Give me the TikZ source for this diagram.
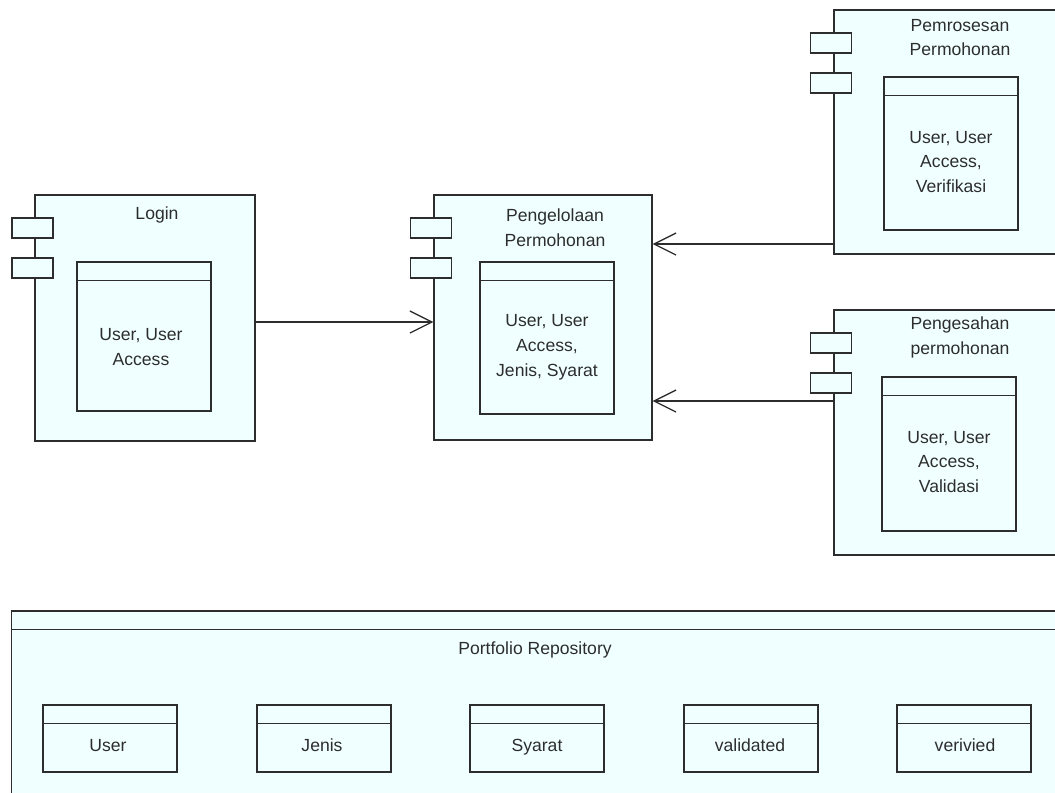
\documentclass[tikz,border=0pt]{standalone}
\usepackage{fontspec}
\setmainfont{Liberation Sans}
\usepackage{tikz}
\usetikzlibrary{arrows.meta,calc}

\definecolor{compfill}{RGB}{240,255,255}
\definecolor{ink}{RGB}{45,45,45}

\begin{document}
\begin{tikzpicture}[x=0.025cm,y=-0.025cm]
          %% component diagram

          \tikzstyle{comp}=[draw=ink,line width=0.9pt,fill=compfill,inner sep=0pt]
          \tikzstyle{port}=[comp,minimum width=1.025cm,minimum height=0.5cm]
          \tikzstyle{klass}=[comp,minimum width=3.35cm,path picture={
              \draw[ink,line width=0.9pt] ([yshift=-0.47cm]path picture bounding box.north west)
                    -- ([yshift=-0.47cm]path picture bounding box.north east);}]
          \tikzstyle{lbl}=[text=ink,align=center,font=\fontsize{12.5}{17.7}\selectfont]
          \tikzstyle{tlbl}=[lbl,text height=1.6ex,text depth=0.4ex]
          \tikzstyle{dep}=[draw=ink,line width=0.9pt,-{Straight Barb[length=0.55cm,width=0.55cm,line width=0.9pt]}]

          \clip (0,0) rectangle (1055,792);
          \fill[white] (0,0) rectangle (1055,792);

          % Login
          \node[comp,minimum width=5.5cm,minimum height=6.15cm] (login) at (145,318) {};
          \node[port] (loginP1) at (32.5,228) {};
          \node[port] (loginP2) at (32.5,268) {};
          \node[klass,minimum height=3.725cm] (loginK) at (144,336.5) {};
          \node[tlbl] (loginT) at (157,215) {Login};
          \node[lbl] (loginB) at (141,347) {User, User\\Access};

          % Pengelolaan Permohonan
          \node[comp,minimum width=5.45cm,minimum height=6.125cm] (kelola) at (543,317.5) {};
          \node[port] (kelolaP1) at (431,228) {};
          \node[port] (kelolaP2) at (431,268) {};
          \node[klass,minimum height=3.8cm] (kelolaK) at (547,338) {};
          \node[lbl] (kelolaT) at (555,227.5) {Pengelolaan\\Permohonan};
          \node[lbl] (kelolaB) at (547,347) {User, User\\Access,\\Jenis, Syarat};

          % Pemrosesan Permohonan
          \node[comp,minimum width=5.75cm,minimum height=6.1cm] (proses) at (949,132) {};
          \node[port] (prosesP1) at (831,43) {};
          \node[port] (prosesP2) at (831,83) {};
          \node[klass,minimum height=3.825cm] (prosesK) at (951,153.5) {};
          \node[lbl] (prosesT) at (960,37.5) {Pemrosesan\\Permohonan};
          \node[lbl] (prosesB) at (951,162) {User, User\\Access,\\Verifikasi};

          % Pengesahan permohonan
          \node[comp,minimum width=5.75cm,minimum height=6.125cm] (sah) at (949,432.5) {};
          \node[port] (sahP1) at (831,343) {};
          \node[port] (sahP2) at (831,383) {};
          \node[klass,minimum height=3.85cm] (sahK) at (949,454) {};
          \node[lbl] (sahT) at (960,337.5) {Pengesahan\\permohonan};
          \node[lbl] (sahB) at (949,462) {User, User\\Access,\\Validasi};

          % Portfolio Repository
          \node[klass,minimum width=26.3cm,minimum height=4.725cm] (repo) at (538,705.5) {};
          \node[tlbl] (repoT) at (535,650) {Portfolio Repository};
          \node[klass,minimum height=1.675cm] (tUser) at (110,738.5) {};
          \node[klass,minimum height=1.675cm] (tJenis) at (324,738.5) {};
          \node[klass,minimum height=1.675cm] (tSyarat) at (537,738.5) {};
          \node[klass,minimum height=1.675cm] (tValid) at (751,738.5) {};
          \node[klass,minimum height=1.675cm] (tVerif) at (964,738.5) {};
          \node[tlbl] at (108,747) {User};
          \node[tlbl] at (322,747) {Jenis};
          \node[tlbl] at (537,747) {Syarat};
          \node[tlbl] at (750,747) {validated};
          \node[tlbl] at (965,747) {verivied};

          % dependencies
          \coordinate (loginOut) at (255,322);
          \coordinate (prosesOut) at (834,244);
          \coordinate (sahOut) at (834,401);
          \path[dep] (loginOut) -- (kelola.west |- loginOut);
          \path[dep] (prosesOut) -- (kelola.east |- prosesOut);
          \path[dep] (sahOut) -- (kelola.east |- sahOut);

\end{tikzpicture}
\end{document}
